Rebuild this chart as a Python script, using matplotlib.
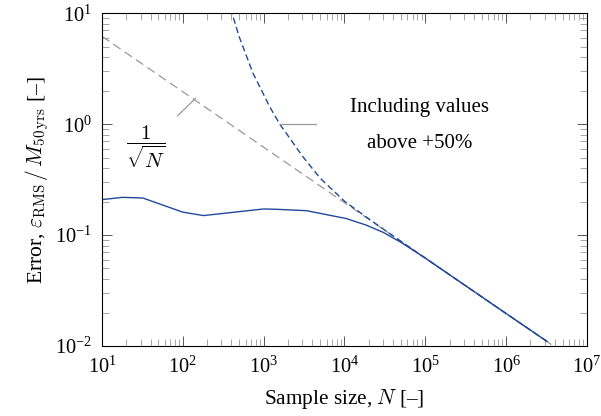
import matplotlib
matplotlib.use("Agg")
import matplotlib.pyplot as plt
from matplotlib.ticker import LogLocator, NullFormatter

plt.rcParams['font.family'] = ['Liberation Serif', 'DejaVu Serif']
plt.rcParams['mathtext.fontset'] = 'cm'

# Data
solid_N = [10, 18, 32, 100, 180, 1000, 1400, 3400, 10500, 18600, 30000, 50000, 1e5, 1e6, 3.2e6]
solid_err = [0.209, 0.219, 0.216, 0.161, 0.150, 0.172, 0.171, 0.166, 0.141, 0.123, 0.106, 0.086, 0.062, 0.0196, 0.011]

dashed_N = [350, 406, 500, 738, 1000, 1186, 1578, 3055, 5000, 10000, 20000, 32000, 1e5, 1e6, 3.2e6]
dashed_err = [14.8, 10.0, 6.1, 2.88, 1.85, 1.44, 1.005, 0.509, 0.326, 0.202, 0.140, 0.110, 0.062, 0.0196, 0.011]

ref_N = [10, 1e7]
ref_err = [6.2, 0.0062]

blue = '#21499a'
gray = '#9a9a9a'

fig = plt.figure(figsize=(6.01, 4.16), dpi=100)
ax = fig.add_axes([0.1697, 0.1683, 0.9767 - 0.1697, 0.968 - 0.1683])

ax.plot(ref_N, ref_err, color=gray, lw=0.9, dashes=(7, 4))
ax.plot(dashed_N, dashed_err, color=blue, lw=1.0, dashes=(4.5, 2.5))
ax.plot(solid_N, solid_err, color=blue, lw=1.0)

ax.set_xscale('log')
ax.set_yscale('log')
ax.set_xlim(10, 1e7)
ax.set_ylim(1e-2, 1e1)

ax.xaxis.set_major_locator(LogLocator(base=10, numticks=20))
ax.yaxis.set_major_locator(LogLocator(base=10, numticks=20))
ax.xaxis.set_minor_locator(LogLocator(base=10, subs=range(2, 10), numticks=100))
ax.yaxis.set_minor_locator(LogLocator(base=10, subs=range(2, 10), numticks=100))
ax.xaxis.set_minor_formatter(NullFormatter())
ax.yaxis.set_minor_formatter(NullFormatter())

ax.tick_params(which='both', direction='in', top=True, right=True, labelsize=14.7)
ax.tick_params(which='major', length=7.5, width=0.7, color='#555555')
ax.tick_params(which='minor', length=5, width=0.6, color='#999999')
ax.tick_params(axis='x', which='major', pad=8)
ax.tick_params(axis='y', which='major', pad=7)
for s in ax.spines.values():
    s.set_linewidth(0.8)

ax.set_xlabel('Sample size, $N$ [–]', fontsize=15.3, labelpad=6)
ax.set_ylabel(r'Error, $\varepsilon_{\mathrm{RMS}}\,/\,M_{50\,\mathrm{yrs}}$ [–]', fontsize=15.5, labelpad=3)

# annotation pins
ax.plot([86, 143.6], [1.19, 1.71], color=gray, lw=0.9)
ax.plot([1578, 4480], [1.0, 1.0], color=gray, lw=0.9)

ax.text(34.9, 0.63, r'$\dfrac{1}{\sqrt{N}}$', fontsize=15, ha='center', va='center')
ax.text(8.4e4, 1.40, 'Including values', fontsize=15, ha='center', va='center')
ax.text(8.4e4, 0.676, 'above +50%', fontsize=15, ha='center', va='center')

fig.savefig('out.png', dpi=100)
